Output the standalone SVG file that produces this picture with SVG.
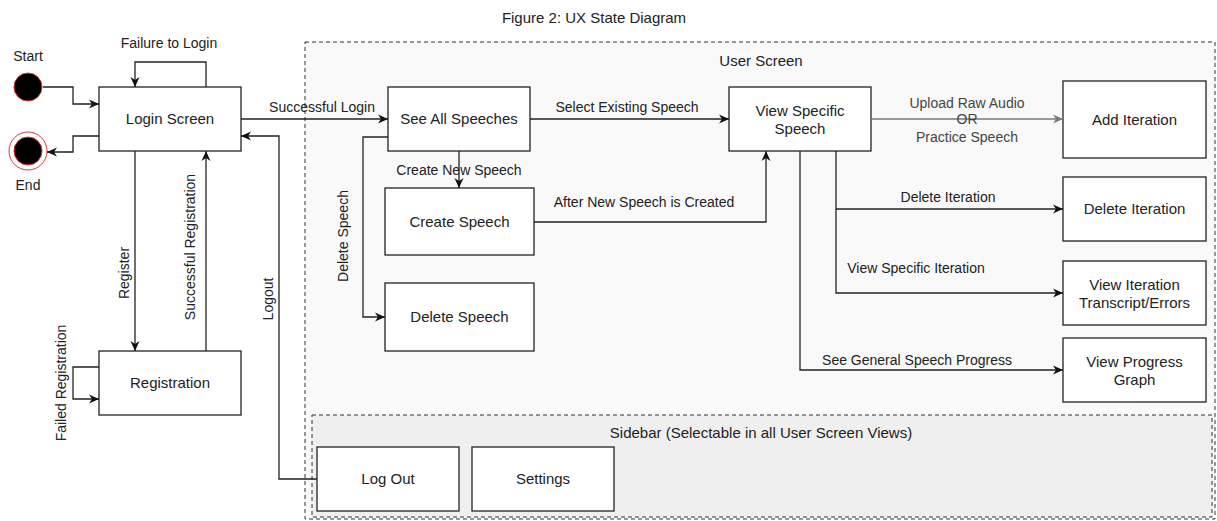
<svg xmlns="http://www.w3.org/2000/svg" width="1217" height="521" viewBox="0 0 1217 521">
<style>
text{font-family:"Liberation Sans",Arial,sans-serif;fill:#222}
.n{font-size:15px;text-anchor:middle}
.l{font-size:14px;text-anchor:middle}
.box{fill:#fff;stroke:#222;stroke-width:1.3}
.c{fill:none;stroke:#222;stroke-width:1.3}
.g{fill:none;stroke:#7a7a7a;stroke-width:1.3}
</style>
<defs>
<marker id="a" markerUnits="userSpaceOnUse" markerWidth="12" markerHeight="10" refX="10" refY="5" orient="auto"><path d="M0,0.5 L10,5 L0,9.5 L3,5 z" fill="#111"/></marker>
<marker id="ag" markerUnits="userSpaceOnUse" markerWidth="12" markerHeight="10" refX="10" refY="5" orient="auto"><path d="M0,0.5 L10,5 L0,9.5 L3,5 z" fill="#7a7a7a"/></marker>
</defs>
<rect width="1217" height="521" fill="#fff"/>
<text x="594" y="23" class="n">Figure 2: UX State Diagram</text>

<g id="user-screen">
<rect x="305" y="42" width="910" height="477" fill="#f9f9f9" stroke="#333" stroke-width="1" stroke-dasharray="4,3"/>
<text x="761" y="66" class="n">User Screen</text>
</g>
<g id="sidebar">
<rect x="312" y="415" width="900" height="102" fill="#efefef" stroke="#333" stroke-width="1" stroke-dasharray="4,3"/>
<text x="761" y="438" class="n">Sidebar (Selectable in all User Screen Views)</text>
</g>

<g id="start"><circle cx="28" cy="87" r="14" fill="#000" stroke="#d33" stroke-width="1"/><text x="28" y="61" class="l">Start</text></g>
<g id="end"><circle cx="28" cy="151" r="19" fill="#fff" stroke="#d33" stroke-width="1"/><circle cx="28" cy="151" r="14" fill="#000" stroke="#d33" stroke-width="1"/><text x="28" y="190" class="l">End</text></g>

<g id="login"><rect x="99" y="87" width="142" height="64" class="box"/><text x="170" y="124" class="n">Login Screen</text></g>
<g id="registration"><rect x="99" y="351" width="142" height="64" class="box"/><text x="170" y="388" class="n">Registration</text></g>
<g id="see-all"><rect x="388" y="87" width="142" height="64" class="box"/><text x="459" y="124" class="n">See All Speeches</text></g>
<g id="create-speech"><rect x="385" y="188" width="149" height="67" class="box"/><text x="459.5" y="227" class="n">Create Speech</text></g>
<g id="delete-speech"><rect x="385" y="283" width="149" height="68" class="box"/><text x="459.5" y="322" class="n">Delete Speech</text></g>
<g id="view-specific"><rect x="729" y="87" width="142" height="64" class="box"/><text x="800" y="116" class="n">View Specific</text><text x="800" y="134" class="n">Speech</text></g>
<g id="add-iteration"><rect x="1063" y="81" width="143" height="77" class="box"/><text x="1134.5" y="125" class="n">Add Iteration</text></g>
<g id="delete-iteration"><rect x="1063" y="177" width="143" height="64" class="box"/><text x="1134.5" y="214" class="n">Delete Iteration</text></g>
<g id="view-iteration"><rect x="1063" y="261" width="143" height="64" class="box"/><text x="1134.5" y="290" class="n">View Iteration</text><text x="1134.5" y="308" class="n">Transcript/Errors</text></g>
<g id="view-progress"><rect x="1063" y="338" width="143" height="64" class="box"/><text x="1134.5" y="367" class="n">View Progress</text><text x="1134.5" y="385" class="n">Graph</text></g>
<g id="logout-node"><rect x="317" y="447" width="142" height="64" class="box"/><text x="388" y="484" class="n">Log Out</text></g>
<g id="settings"><rect x="472" y="447" width="142" height="64" class="box"/><text x="543" y="484" class="n">Settings</text></g>

<g id="connectors">
<path d="M43,87 H73 V104 H99" class="c" marker-end="url(#a)"/>
<path d="M99,136 H73 V152 H47" class="c" marker-end="url(#a)"/>
<path d="M206,87 V62 H135 V87" class="c" marker-end="url(#a)"/>
<path d="M241,119 H388" class="c" marker-end="url(#a)"/>
<path d="M135,151 V351" class="c" marker-end="url(#a)"/>
<path d="M206,351 V151" class="c" marker-end="url(#a)"/>
<path d="M99,367 H73 V399 H99" class="c" marker-end="url(#a)"/>
<path d="M317,479 H279 V136 H241" class="c" marker-end="url(#a)"/>
<path d="M530,119 H729" class="c" marker-end="url(#a)"/>
<path d="M459,151 V188" class="c" marker-end="url(#a)"/>
<path d="M388,137 H363 V317 H385" class="c" marker-end="url(#a)"/>
<path d="M534,222 H766 V151" class="c" marker-end="url(#a)"/>
<path d="M871,119 H1063" class="g" marker-end="url(#ag)"/>
<path d="M836,151 V209 H1063" class="c" marker-end="url(#a)"/>
<path d="M836,209 V293 H1063" class="c" marker-end="url(#a)"/>
<path d="M800,151 V370 H1063" class="c" marker-end="url(#a)"/>

<text x="169" y="48" class="l">Failure to Login</text>
<text x="322" y="112" class="l">Successful Login</text>
<text class="l" transform="translate(129,273) rotate(-90)">Register</text>
<text class="l" transform="translate(195,247) rotate(-90)">Successful Registration</text>
<text class="l" transform="translate(273,299) rotate(-90)">Logout</text>
<text class="l" transform="translate(66,383) rotate(-90)">Failed Registration</text>
<text class="l" transform="translate(348,236) rotate(-90)">Delete Speech</text>
<text x="459" y="175" class="l">Create New Speech</text>
<text x="627" y="112" class="l">Select Existing Speech</text>
<text x="644" y="207" class="l">After New Speech is Created</text>
<text x="967" y="108" class="l" style="fill:#444">Upload Raw Audio</text>
<text x="967" y="124" class="l" style="fill:#444">OR</text>
<text x="967" y="142" class="l" style="fill:#444">Practice Speech</text>
<text x="948" y="202" class="l">Delete Iteration</text>
<text x="916" y="273" class="l">View Specific Iteration</text>
<text x="917" y="365" class="l">See General Speech Progress</text>
</g>
</svg>
